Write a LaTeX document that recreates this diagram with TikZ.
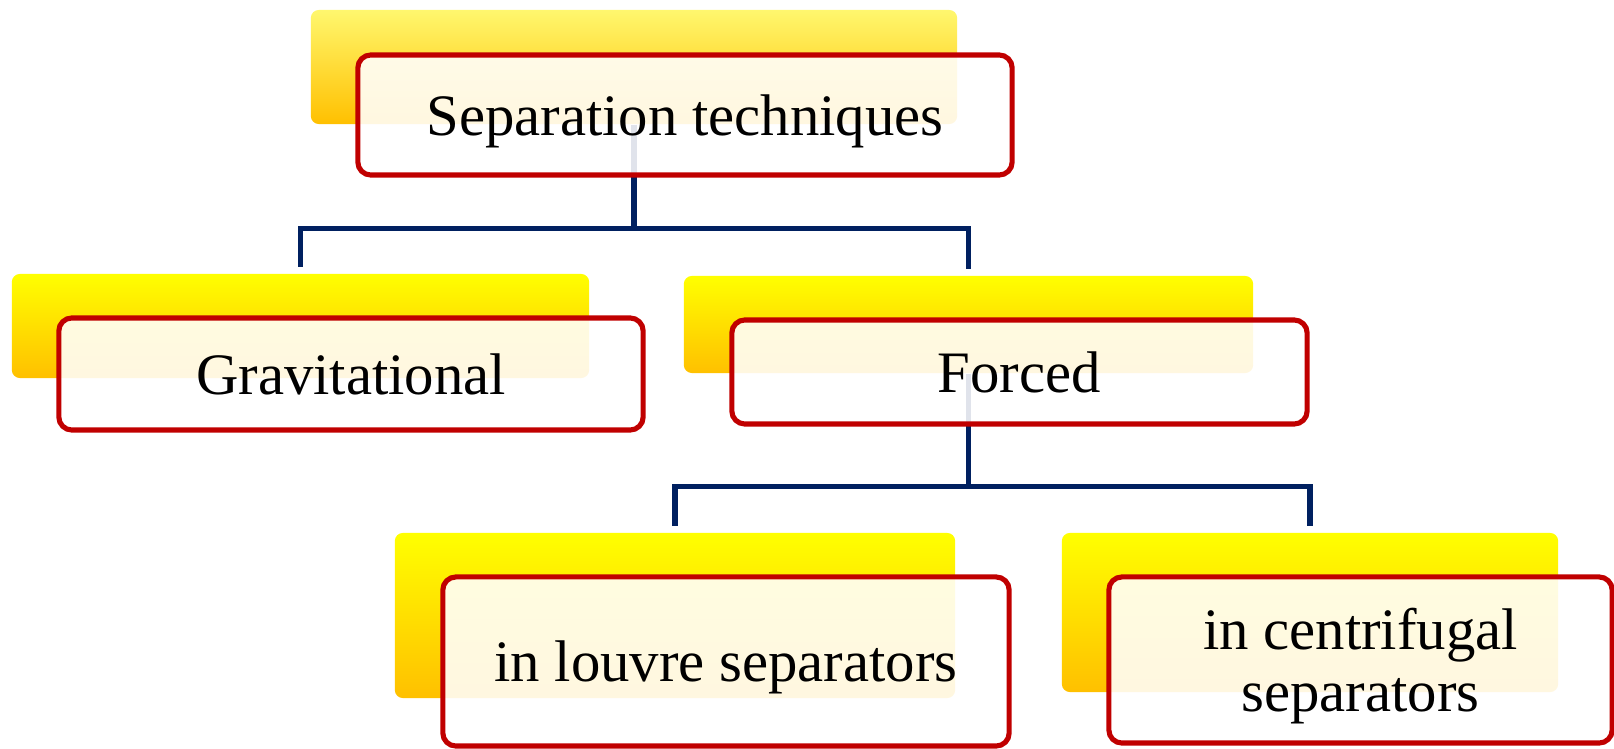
\documentclass[tikz,border=0pt]{standalone}
\usepackage{fontspec}
\setmainfont{Liberation Serif}
\usetikzlibrary{positioning}

\definecolor{frameRed}{RGB}{192,0,0}
\definecolor{linkBlue}{RGB}{0,32,96}
\definecolor{topYellow}{RGB}{255,255,0}
\definecolor{paleYellow}{RGB}{255,247,110}
\definecolor{bottomOrange}{RGB}{255,192,0}

\tikzset{
  backbox/.style={rectangle, rounded corners=0.08cm, inner sep=0pt,
    top color=topYellow, bottom color=bottomOrange, draw=none},
  frontbox/.style={rectangle, rounded corners=0.13cm, inner sep=0pt,
    draw=frameRed, line width=1.45pt, fill=white, fill opacity=0.88, text opacity=1,
    font=\fontsize{16.7}{17.6}\selectfont, text depth=0pt, align=center},
  link/.style={draw=linkBlue, line width=1.45pt}
}

\begin{document}
\begin{tikzpicture}[x=0.01cm, y=-0.01cm]
\useasboundingbox (0,0) rectangle (1614,749);

% Back plates
\node [backbox, top color=paleYellow, minimum width=6.46cm, minimum height=1.14cm] (sepBack) at (634,67) {};
\node [backbox, minimum width=5.77cm, minimum height=1.04cm] (gravBack) at (300.5,326) {};
\node [backbox, minimum width=5.69cm, minimum height=0.97cm] (forcBack) at (968.5,324.5) {};
\node [backbox, minimum width=5.60cm, minimum height=1.65cm] (louvBack) at (675,615.5) {};
\node [backbox, minimum width=4.96cm, minimum height=1.59cm] (centBack) at (1310,612.5) {};

% Tree links
\draw [link] (sepBack.south) -- ++(0,104) -| ([yshift=0.06cm]gravBack.north);
\draw [link] (sepBack.south) -- ++(0,104) -| ([yshift=0.06cm]forcBack.north);
\draw [link] (forcBack.south) -- ++(0,113) -| ([yshift=0.06cm]louvBack.north);
\draw [link] (forcBack.south) -- ++(0,113) -| ([yshift=0.06cm]centBack.north);

% Front frames
\node [frontbox, minimum width=6.54cm, minimum height=1.20cm] (sepFront) at (685,115) {Separation techniques};
\node [frontbox, minimum width=5.84cm, minimum height=1.12cm] (gravFront) at (351,374) {Gravitational};
\node [frontbox, minimum width=5.75cm, minimum height=1.04cm] (forcFront) at (1019.5,372) {Forced};
\node [frontbox, minimum width=5.66cm, minimum height=1.69cm] (louvFront) at (726,661.5) {in louvre separators};
\node [frontbox, minimum width=5.03cm, minimum height=1.66cm] (centFront) at (1360.5,660) {in centrifugal\\separators};
\end{tikzpicture}
\end{document}
